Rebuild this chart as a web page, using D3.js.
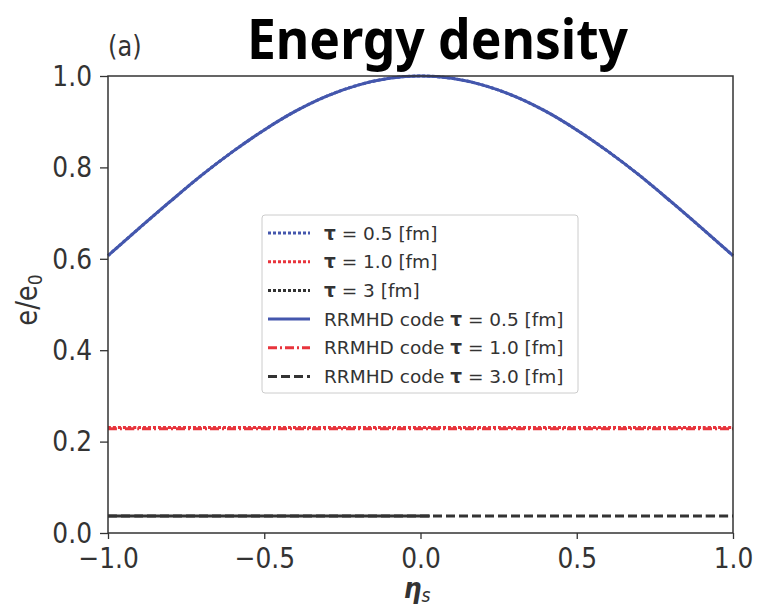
<!DOCTYPE html>
<html><head><meta charset="utf-8">
<script src="https://cdn.jsdelivr.net/npm/d3@7"></script>
<style>body{margin:0;background:#fff}svg{display:block}</style>
</head><body>
<svg id="c" width="757" height="605"></svg>
<script>
// ---- data ----
const etaS = [-1.0,-0.9,-0.8,-0.7,-0.6,-0.5,-0.4,-0.3,-0.2,-0.1,0.0,0.1,0.2,0.3,0.4,0.5,0.6,0.7,0.8,0.9,1.0];
const tau05Analytic = [0.607,0.667,0.726,0.783,0.835,0.882,0.923,0.956,0.980,0.995,1.000,0.995,0.980,0.956,0.923,0.882,0.835,0.783,0.726,0.667,0.607];
const tau05RRMHD   = [0.607,0.667,0.726,0.783,0.835,0.882,0.923,0.956,0.980,0.995,1.000,0.995,0.980,0.956,0.923,0.882,0.835,0.783,0.726,0.667,0.607];
const tau10Analytic = [0.231,0.231,0.231,0.231,0.231,0.231,0.231,0.231,0.231,0.231,0.231,0.231,0.231,0.231,0.231,0.231,0.231,0.231,0.231,0.231,0.231];
const tau10RRMHD   = [0.228,0.228,0.228,0.228,0.228,0.228,0.228,0.228,0.228,0.228,0.228,0.228,0.228,0.228,0.228,0.228,0.228,0.228,0.228,0.228,0.228];
const etaHalf = [-1.0,-0.9,-0.8,-0.7,-0.6,-0.5,-0.4,-0.3,-0.2,-0.1,0.0,0.03];
const tau3Analytic = [0.037,0.037,0.037,0.037,0.037,0.037,0.037,0.037,0.037,0.037,0.037,0.037];
const tau3RRMHD   = [0.037,0.037,0.037,0.037,0.037,0.037,0.037,0.037,0.037,0.037,0.037,0.037,0.037,0.037,0.037,0.037,0.037,0.037,0.037,0.037,0.037];
const xTicks = [-1.0,-0.5,0.0,0.5,1.0];
const yTicks = [0.0,0.2,0.4,0.6,0.8,1.0];
const legendLabels = [
  ["", "0.5 [fm]"], ["", "1.0 [fm]"], ["", "3 [fm]"],
  ["RRMHD code ", "0.5 [fm]"], ["RRMHD code ", "1.0 [fm]"], ["RRMHD code ", "3.0 [fm]"]
];

const BLUE = "#4457ad", RED = "#e8343c", BLACK = "#333333";
const SX = 0.86; // horizontal squeeze of text, as in the reference
const svg = d3.select("#c");
const L = 108, R = 733, T = 76, B = 533;
const x = d3.scaleLinear().domain([-1, 1]).range([L, R]);
const y = d3.scaleLinear().domain([0, 1]).range([B, T]);
const line = d3.line().x(d => x(d[0])).y(d => y(d[1])).curve(d3.curveCatmullRom);

const series = [
  {xs: etaS, ys: tau10Analytic, color: RED, dash: "3,2"},
  {xs: etaS, ys: tau10RRMHD, color: RED, dash: "9,3,2,3"},
  {xs: etaS, ys: tau3RRMHD, color: BLACK, dash: "9,4"},
  {xs: etaHalf, ys: tau3Analytic, color: BLACK, dash: null},
  {xs: etaS, ys: tau05RRMHD, color: BLUE, dash: null},
  {xs: etaS, ys: tau05Analytic, color: BLUE, dash: "3,2"}
];
const g = svg.append("g");
series.forEach(s => {
  g.append("path").datum(s.xs.map((v, i) => [v, s.ys[i]]))
    .attr("d", line).attr("fill", "none").attr("stroke", s.color)
    .attr("stroke-width", 3).attr("stroke-dasharray", s.dash);
});

// frame
svg.append("rect").attr("x", L).attr("y", T).attr("width", R - L).attr("height", B - T)
  .attr("fill", "none").attr("stroke", "#333").attr("stroke-width", 1.5);

const xa = svg.append("g").attr("transform", `translate(0,${B})`)
  .call(d3.axisBottom(x).tickValues(xTicks).tickSize(6).tickPadding(8.5)
    .tickFormat(d => d3.format(".1f")(d).replace("-", "\u2212")));
const ya = svg.append("g").attr("transform", `translate(${L},0)`)
  .call(d3.axisLeft(y).tickValues(yTicks).tickSize(8).tickPadding(10.6).tickFormat(d3.format(".1f")));
[xa, ya].forEach(a => {
  a.select(".domain").remove();
  a.selectAll("line").attr("stroke", "#333").attr("stroke-width", 1.3);
  a.selectAll("text").attr("fill", "#333").style("font-family", "DejaVu Sans").style("font-size", "29px")
    .attr("transform", `scale(${SX},1)`);
});

// y label
svg.append("text").attr("transform", `translate(37,300) scale(1,${SX}) rotate(-90)`)
  .attr("text-anchor", "middle").attr("fill", "#333")
  .style("font-family", "DejaVu Sans").style("font-size", "30px")
  .text("e/e").append("tspan").attr("font-size", "20px").attr("dy", 5).text("0");
// x label
svg.append("text").attr("transform", `translate(417,598) scale(${SX},1)`).attr("text-anchor", "middle").attr("fill", "#333")
  .style("font-family", "DejaVu Sans").style("font-size", "29px").style("font-style", "italic").style("font-weight", "bold")
  .text("η").append("tspan").attr("font-size", "20px").attr("dy", 4).style("font-weight", "normal").text("s");

// (a)
svg.append("text").attr("transform", `translate(108,56) scale(${SX},1)`).attr("fill", "#333")
  .style("font-family", "DejaVu Sans").style("font-size", "28px").text("(a)");
// title
svg.append("text").attr("x", 247).attr("y", 59).attr("fill", "#000")
  .attr("textLength", 381).attr("lengthAdjust", "spacingAndGlyphs")
  .style("font-family", "'Noto Sans'").style("font-weight", "bold").style("font-size", "55px")
  .text("Energy density");

// legend
const lg = svg.append("g");
lg.append("rect").attr("x", 262).attr("y", 215).attr("width", 316).attr("height", 178).attr("rx", 3)
  .attr("fill", "#fff").attr("stroke", "#ccc").attr("stroke-width", 1);
const legStyles = [
  {color: BLUE, dash: "3,2"}, {color: RED, dash: "3,2"}, {color: BLACK, dash: "3,2"},
  {color: BLUE, dash: null}, {color: RED, dash: "9,3,2,3"}, {color: BLACK, dash: "9,4"}
];
legendLabels.forEach((lab, i) => {
  const cy = 233 + i * 28.7;
  lg.append("line").attr("x1", 268).attr("x2", 310).attr("y1", cy).attr("y2", cy)
    .attr("stroke", legStyles[i].color).attr("stroke-width", 3).attr("stroke-dasharray", legStyles[i].dash);
  const t = lg.append("text").attr("x", 324).attr("y", cy + 6.5).attr("fill", "#333")
    .style("font-family", "DejaVu Sans").style("font-size", "18.5px");
  t.append("tspan").text(lab[0]);
  t.append("tspan").style("font-weight", "bold").text("τ");
  t.append("tspan").text(" = " + lab[1]);
});
</script>
</body></html>
